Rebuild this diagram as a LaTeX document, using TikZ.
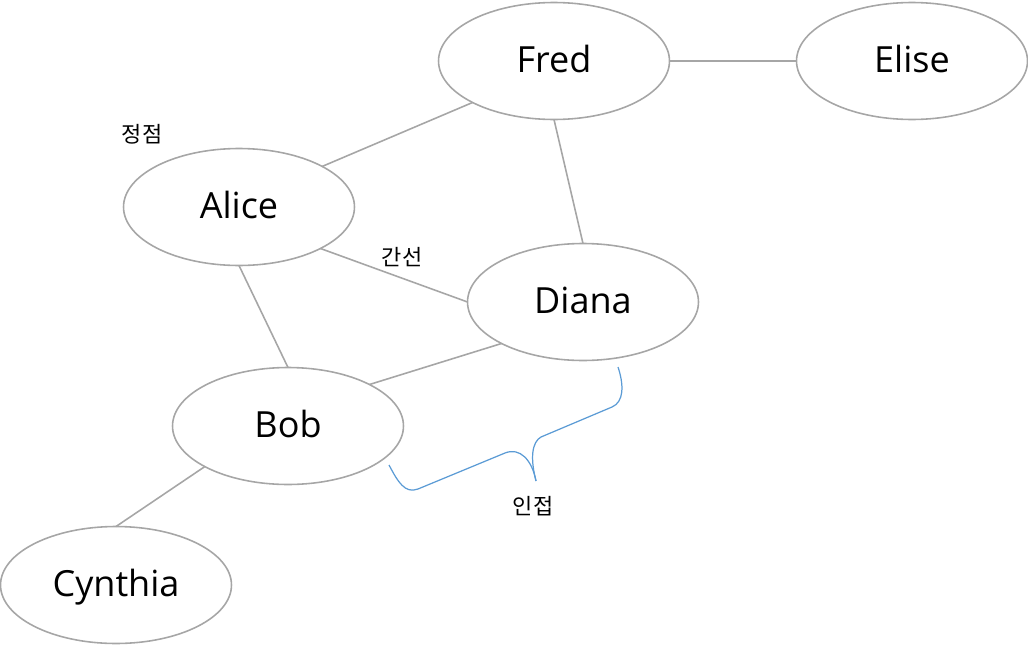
\documentclass[tikz,border=0pt]{standalone}
\usepackage{fontspec}
\setmainfont{Open Sans}
\newfontfamily\krfont{Noto Sans CJK KR}
\usetikzlibrary{shapes.geometric}
\definecolor{edgegray}{RGB}{166,166,166}
\definecolor{braceblue}{RGB}{91,155,213}
\tikzset{
  vertex/.style={ellipse, draw=edgegray, line width=0.9pt, minimum width=4.62cm, minimum height=2.34cm, inner sep=0pt, outer sep=0pt, font=\fontsize{20.5}{24}\selectfont, text=black, text height=18pt, text depth=4.4pt},
  edge/.style={draw=edgegray, line width=0.9pt},
  lbl/.style={font=\krfont\fontsize{12.5}{14}\selectfont, inner sep=0pt, text=black},
  bracepath/.style={draw=braceblue, line width=0.7pt}
}
\begin{document}
\begin{tikzpicture}[x=0.02cm, y=-0.02cm]
\useasboundingbox (0,0) rectangle (1028,646);
\node[vertex] (fred) at (554,61) {Fred};
\node[vertex] (elise) at (912,61) {Elise};
\node[vertex] (alice) at (239,207) {Alice};
\node[vertex] (diana) at (583,302) {Diana};
\node[vertex] (bob) at (288,426) {Bob};
\node[vertex] (cynthia) at (116,585) {Cynthia};
\draw[edge] (fred.east) -- (elise.west);
\draw[edge] (fred.207) -- (alice.26);
\draw[edge] (fred.south) -- (diana.north);
\draw[edge] (alice.333) -- (diana.west);
\draw[edge] (alice.south) -- (bob.north);
\draw[edge] (bob.27) -- (diana.207);
\draw[edge] (bob.206) -- (cynthia.north);
\node[lbl] (vlabel) at (142,134) {정점};
\node[lbl] (elabel) at (402,257) {간선};
\node[lbl] (alabel) at (533,506) {인접};
\coordinate (b1) at (389,465);
\coordinate (b2) at (418,489);
\coordinate (b3) at (505,453);
\coordinate (tip) at (536,481);
\coordinate (b4) at (541,437);
\coordinate (b5) at (612,407);
\coordinate (b6) at (618,367);
\draw[bracepath] (b1) .. controls (398,482) and (405,494) .. (b2)
  -- (b3) .. controls (520,447) and (532,460) .. (tip);
\draw[bracepath] (tip) .. controls (530,458) and (532,442) .. (b4)
  -- (b5) .. controls (624,402) and (624,385) .. (b6);
\end{tikzpicture}
\end{document}
